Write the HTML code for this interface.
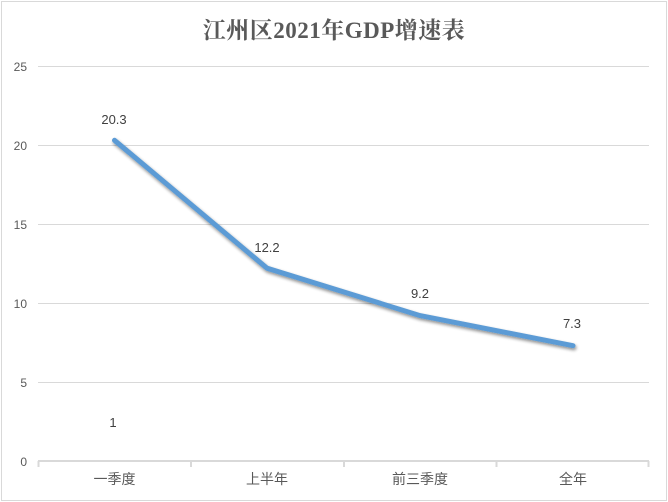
<!DOCTYPE html>
<html><head><meta charset="utf-8"><style>
html,body{margin:0;padding:0;background:#fff;}
svg{display:block;}
</style></head><body>
<svg width="668" height="502" viewBox="0 0 668 502" xmlns="http://www.w3.org/2000/svg">
<defs>
<filter id="sh" x="-10%" y="-10%" width="120%" height="130%">
<feGaussianBlur in="SourceAlpha" stdDeviation="1.5"/>
<feOffset dx="1" dy="2" result="b"/>
<feComponentTransfer><feFuncA type="linear" slope="0.45"/></feComponentTransfer>
<feMerge><feMergeNode/><feMergeNode in="SourceGraphic"/></feMerge>
</filter>
</defs>
<rect x="1.5" y="1.5" width="665" height="499" fill="#fff" stroke="#d9d9d9" stroke-width="1"/>
<text x="334" y="38" text-anchor="middle" font-family="'Liberation Serif','Noto Serif CJK SC',serif" font-size="23" font-weight="bold" fill="#595959" letter-spacing="0.5">江州区2021年GDP增速表</text>
<g stroke="#d9d9d9" stroke-width="1">
<line x1="38" y1="66.5" x2="649" y2="66.5"/>
<line x1="38" y1="145.5" x2="649" y2="145.5"/>
<line x1="38" y1="224.5" x2="649" y2="224.5"/>
<line x1="38" y1="303.5" x2="649" y2="303.5"/>
<line x1="38" y1="382.5" x2="649" y2="382.5"/>
</g>
<g stroke="#d9d9d9" stroke-width="2">
<line x1="38" y1="461" x2="649" y2="461"/>
<line x1="38.5" y1="461" x2="38.5" y2="467"/>
<line x1="191" y1="461" x2="191" y2="467"/>
<line x1="344" y1="461" x2="344" y2="467"/>
<line x1="496.5" y1="461" x2="496.5" y2="467"/>
<line x1="648.5" y1="461" x2="648.5" y2="467"/>
</g>
<g font-family="'Liberation Sans',sans-serif" font-size="12" fill="#595959" text-anchor="end">
<text x="27" y="71">25</text>
<text x="27" y="150">20</text>
<text x="27" y="229">15</text>
<text x="27" y="308">10</text>
<text x="27" y="387">5</text>
<text x="27" y="466">0</text>
</g>
<g font-family="'Liberation Sans','Noto Sans CJK SC',sans-serif" font-size="14" fill="#595959" text-anchor="middle">
<text x="114.5" y="484">一季度</text>
<text x="267" y="484">上半年</text>
<text x="420" y="484">前三季度</text>
<text x="573" y="484">全年</text>
</g>
<polyline points="114.5,140.3 267,268.2 420,315.6 573,345.7" fill="none" stroke="#5b9bd5" stroke-width="5" stroke-linejoin="round" stroke-linecap="round" filter="url(#sh)"/>
<g font-family="'Liberation Sans',sans-serif" font-size="13" fill="#404040" text-anchor="middle">
<text x="114" y="124">20.3</text>
<text x="267" y="252">12.2</text>
<text x="420" y="298">9.2</text>
<text x="572" y="328">7.3</text>
<text x="113" y="427">1</text>
</g>
</svg>
</body></html>
